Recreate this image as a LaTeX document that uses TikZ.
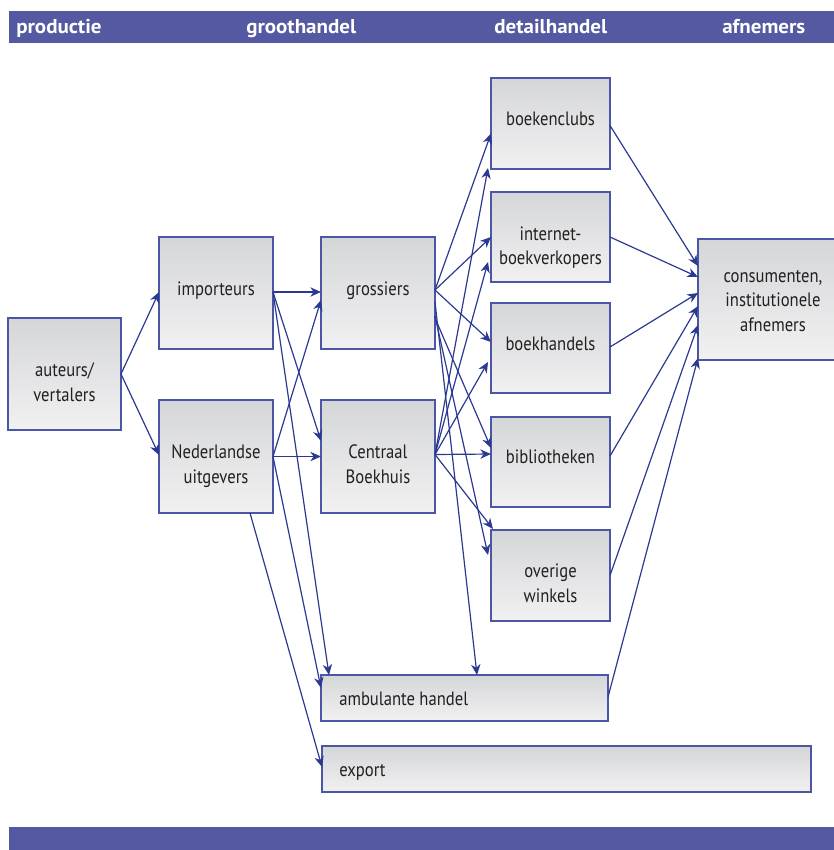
\documentclass[tikz,border=0pt]{standalone}
\usepackage{fontspec}
\setmainfont{PT Sans}[FakeStretch=0.86]
\newfontfamily\hdrfont{PT Sans}[FakeStretch=1.05]
\usetikzlibrary{arrows.meta}
\definecolor{barblue}{HTML}{5559A1}
\definecolor{edgeblue}{HTML}{4B56A5}
\definecolor{arrblue}{HTML}{2B3992}
\definecolor{boxtop}{HTML}{D5D6D8}
\definecolor{boxbot}{HTML}{F1F1F2}
\definecolor{txtcol}{HTML}{231F20}
\newcommand\drawbox[5]{\node[box, minimum width={(#4-#2)*0.75pt}, minimum height={(#5-#3)*0.75pt}] (#1) at ({(#2+#4)/2},{(#3+#5)/2}) {};}
\begin{document}
\begin{tikzpicture}[x=0.75pt,y=-0.75pt,
  box/.style={draw=edgeblue, line width=0.9pt, top color=boxtop, bottom color=boxbot, rectangle, inner sep=0pt, outer sep=0pt},
  lbl/.style={text=txtcol, font=\fontsize{14.5}{18}\selectfont, anchor=base, inner sep=0pt},
  lbll/.style={lbl, anchor=base west},
  hdr/.style={text=white, font=\hdrfont\fontsize{15}{17}\selectfont\bfseries, anchor=base west, inner sep=0pt},
  arr/.style={draw=arrblue, line width=0.9pt, -{Stealth[length=8pt,width=7pt,inset=2.5pt]}}]
\useasboundingbox (0,0) rectangle (834,850);
% bars
\node[fill=barblue, minimum width={825*0.75pt}, minimum height={32*0.75pt}, inner sep=0pt, outer sep=0pt, anchor=north west] (topbar) at (9,11) {};
\node[fill=barblue, minimum width={825*0.75pt}, minimum height={24*0.75pt}, inner sep=0pt, outer sep=0pt, anchor=north west] (botbar) at (9,827) {};
\node[hdr] (h1) at (16,33) {productie};
\node[hdr] (h2) at (246,33) {groothandel};
\node[hdr] (h3) at (494,33) {detailhandel};
\node[hdr] (h4) at (722,33) {afnemers};
% boxes
\drawbox{aut}{8}{318}{121}{430}
\drawbox{imp}{159}{237}{273}{349}
\drawbox{ned}{159}{400}{273}{513}
\drawbox{gros}{321}{237}{435}{349}
\drawbox{cb}{321}{400}{435}{513}
\drawbox{bc}{491}{78}{610}{169}
\drawbox{inet}{491}{192}{610}{282}
\drawbox{bh}{491}{303}{610}{393}
\drawbox{bib}{491}{417}{610}{507}
\drawbox{ov}{491}{530}{610}{621}
\drawbox{cons}{698}{239}{850}{360}
\drawbox{amb}{321}{675}{608}{721}
\drawbox{exp}{322}{746}{811}{792}
% labels
\node[lbl] (aut1) at (64.5,376) {auteurs/};
\node[lbl] (aut2) at (64.5,401) {vertalers};
\node[lbl] (imp1) at (216,295) {importeurs};
\node[lbl] (ned1) at (216,458) {Nederlandse};
\node[lbl] (ned2) at (216,483) {uitgevers};
\node[lbl] (gros1) at (378,295) {grossiers};
\node[lbl] (cb1) at (378,458) {Centraal};
\node[lbl] (cb2) at (378,483) {Boekhuis};
\node[lbl] (bc1) at (550.5,125) {boekenclubs};
\node[lbl] (inet1) at (550.5,240) {internet-};
\node[lbl] (inet2) at (550.5,264) {boekverkopers};
\node[lbl] (bh1) at (550.5,350) {boekhandels};
\node[lbl] (bib1) at (550.5,463) {bibliotheken};
\node[lbl] (ov1) at (550.5,577) {overige};
\node[lbl] (ov2) at (550.5,602) {winkels};
\node[lbl] (cons1) at (773,282) {consumenten,};
\node[lbl] (cons2) at (773,306) {institutionele};
\node[lbl] (cons3) at (773,331) {afnemers};
\node[lbll] (amb1) at (339,705) {ambulante handel};
\node[lbll] (exp1) at (339,776) {export};
% connectors
\draw[arr] (aut.east) -- ([yshift=1*0.75pt]imp.west);
\draw[arr] (aut.east) -- ([yshift=1.5*0.75pt]ned.west);
\draw[arr] ([yshift=0.75pt]imp.east) -- ([yshift=0.75pt]gros.west);
\draw[arr] ([yshift=0.75pt]imp.east) -- ([yshift=-41*0.75pt]cb.north west);
\draw[arr] ([yshift=0.75pt]imp.east) -- ([xshift=8*0.75pt]amb.north west);
\draw[arr] (ned.east) -- ([yshift=-63*0.75pt]gros.north west);
\draw[arr] (ned.east) -- (cb.west);
\draw[arr] (ned.east) -- ([yshift=-13*0.75pt]amb.north west);
\draw[arr] ([xshift=-23*0.75pt]ned.south east) -- ([yshift=-21*0.75pt]exp.north west);
\draw[arr] ([yshift=3*0.75pt]gros.east) -- ([yshift=-10*0.75pt]bc.west);
\draw[arr] ([yshift=3*0.75pt]gros.east) -- (inet.west);
\draw[arr] ([yshift=3*0.75pt]gros.east) -- ([yshift=6*0.75pt]bh.west);
\draw[arr] ([yshift=-25*0.75pt]gros.east) -- ([yshift=-31*0.75pt]bib.north west);
\draw[arr] ([yshift=-23*0.75pt]gros.east) -- ([xshift=-3*0.75pt,yshift=-25*0.75pt]ov.north west);
\draw[arr] ([yshift=-9*0.75pt]gros.east) -- ([xshift=156*0.75pt]amb.north west);
\draw[arr] ([yshift=2*0.75pt]cb.east) -- ([xshift=-3*0.75pt,yshift=1*0.75pt]bc.south west);
\draw[arr] ([yshift=2*0.75pt]cb.east) -- ([xshift=-3*0.75pt,yshift=20*0.75pt]inet.south west);
\draw[arr] ([yshift=2*0.75pt]cb.east) -- ([xshift=-3*0.75pt,yshift=-59*0.75pt]bh.north west);
\draw[arr] ([yshift=2*0.75pt]cb.east) -- ([yshift=8*0.75pt]bib.west);
\draw[arr] ([yshift=2*0.75pt]cb.east) -- ([xshift=2*0.75pt,yshift=1*0.75pt]ov.north west);
\draw[arr] ([yshift=-2*0.75pt]bc.east) -- ([yshift=-27*0.75pt]cons.north west);
\draw[arr] (inet.east) -- ([yshift=-38*0.75pt]cons.north west);
\draw[arr] ([yshift=1*0.75pt]bh.east) -- ([yshift=-54*0.75pt]cons.north west);
\draw[arr] ([yshift=6*0.75pt]bib.east) -- ([yshift=-67*0.75pt]cons.north west);
\draw[arr] (ov.east) -- ([yshift=-86*0.75pt]cons.north west);
\draw[arr] ([yshift=0.75pt]amb.east) -- ([yshift=2*0.75pt]cons.south west);
\end{tikzpicture}
\end{document}
